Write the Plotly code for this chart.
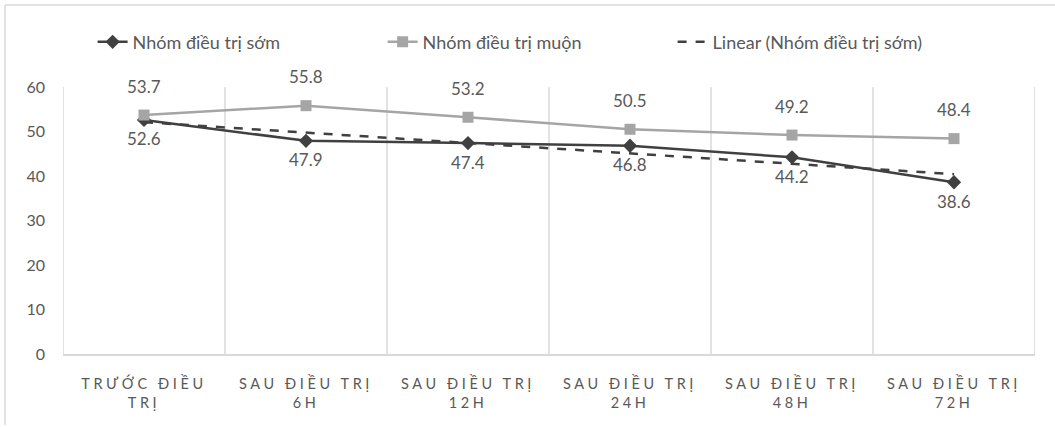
import numpy as np
import plotly.graph_objects as go

# Categories and series values
categories = [
    "TRƯỚC ĐIỀU<br>TRỊ",
    "SAU ĐIỀU TRỊ<br>6H",
    "SAU ĐIỀU TRỊ<br>12H",
    "SAU ĐIỀU TRỊ<br>24H",
    "SAU ĐIỀU TRỊ<br>48H",
    "SAU ĐIỀU TRỊ<br>72H",
]
early_group = [52.6, 47.9, 47.4, 46.8, 44.2, 38.6]
late_group = [53.7, 55.8, 53.2, 50.5, 49.2, 48.4]
y_ticks = [0, 10, 20, 30, 40, 50, 60]

name_early = "Nhóm điều trị sớm"
name_late = "Nhóm điều trị muộn"
name_trend = "Linear (Nhóm điều trị sớm)"

DARK = "#404040"
GREY = "#A5A5A5"
TEXT = "#595959"
GRID = "#D9D9D9"
FONT = "Lato, Carlito, 'Liberation Sans', sans-serif"

# Linear trendline of the early-treatment group
xs = np.arange(1, len(early_group) + 1)
slope, intercept = np.polyfit(xs, early_group, 1)
trend = slope * xs + intercept

xpos = list(range(len(categories)))

fig = go.Figure()
fig.add_trace(go.Scatter(
    x=xpos, y=early_group, name=name_early, mode="lines+markers",
    line=dict(color=DARK, width=2.5),
    marker=dict(symbol="diamond", size=11, color=DARK),
))
fig.add_trace(go.Scatter(
    x=xpos, y=late_group, name=name_late, mode="lines+markers",
    line=dict(color=GREY, width=2.5),
    marker=dict(symbol="square", size=11, color=GREY),
))
fig.add_trace(go.Scatter(
    x=xpos, y=trend, name=name_trend, mode="lines",
    line=dict(color=DARK, width=2.5, dash="dash"),
))

# Value labels
annotations = []
for i, v in enumerate(late_group):
    annotations.append(dict(x=i, y=v, text=f"{v:.1f}", showarrow=False,
                            yshift=29, font=dict(size=17, color=TEXT, family=FONT)))
for i, v in enumerate(early_group):
    annotations.append(dict(x=i, y=v, text=f"{v:.1f}", showarrow=False,
                            yshift=-19, font=dict(size=17, color=TEXT, family=FONT)))

tick_text = [
    "<span style='letter-spacing:3.6px'>" + c + "</span>" for c in categories
]

fig.update_layout(
    width=1055, height=427,
    margin=dict(l=63, r=20, t=87, b=73),
    paper_bgcolor="white", plot_bgcolor="white",
    font=dict(family=FONT, color=TEXT, size=14),
    showlegend=True,
    legend=dict(
        orientation="h", x=0.478, xanchor="center", y=1.168, yanchor="middle",
        font=dict(size=18, color=TEXT, family=FONT),
        tracegroupgap=0, entrywidth=245, entrywidthmode="pixels",
    ),
    annotations=annotations,
    xaxis=dict(
        range=[-0.5, len(categories) - 0.5],
        tickmode="array", tickvals=xpos, ticktext=tick_text,
        showgrid=False, zeroline=False,
        showline=True, linecolor=GRID, linewidth=1.5,
        tickfont=dict(size=14.5, color=TEXT, family=FONT),
        ticks="", ticklabelstandoff=16,
    ),
    yaxis=dict(
        range=[0, 60], tickmode="array", tickvals=y_ticks,
        showgrid=False, zeroline=False, showline=False,
        tickfont=dict(size=16, color=TEXT, family=FONT),
        ticks="", ticklabelstandoff=17,
    ),
)

# Vertical category dividers
for k in range(len(categories) + 1):
    fig.add_shape(type="line", xref="x", yref="paper",
                  x0=k - 0.5, x1=k - 0.5, y0=0, y1=1,
                  line=dict(color=GRID, width=1.5), layer="below")

# Chart frame (left and top edges)
fig.add_shape(type="line", xref="paper", yref="paper",
              x0=-58 / 972, x1=-58 / 972, y0=1 + 82 / 267, y1=-(71 / 267),
              line=dict(color=GRID, width=1.5))
fig.add_shape(type="line", xref="paper", yref="paper",
              x0=-58 / 972, x1=1.05, y0=1 + 82 / 267, y1=1 + 82 / 267,
              line=dict(color=GRID, width=1.5))

fig.write_html("out.html")
